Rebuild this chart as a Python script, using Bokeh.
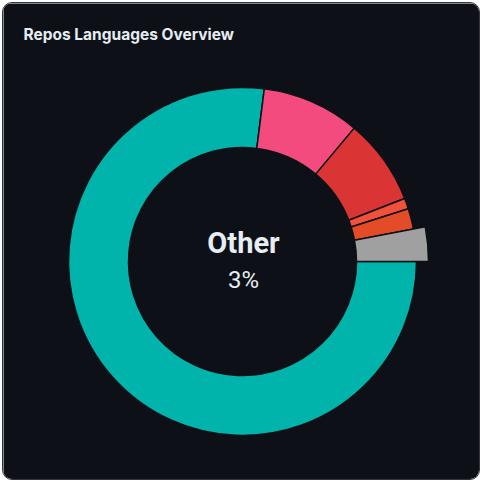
from bokeh.plotting import figure
from bokeh.models import Range1d, ColumnDataSource
from bokeh.core.properties import value
from bokeh.embed import file_html
from bokeh.resources import INLINE
import math

# ---- data ----
languages = ["Dart", "C++", "CMake", "Swift", "HTML", "Other"]
percents = [77.0, 9.1, 8.0, 1.0, 1.9, 3.0]
colors = ["#00B4AB", "#F34B7D", "#DA3434", "#F05138", "#E34C26", "#A0A0A0"]
highlight = "Other"
title_text = "Repos Languages Overview"

# ---- layout ----
W = H = 478
BG = "#0d1117"
TXT = "#e6edf3"
cx, cy = 239, 220
r_in, r_out, grow = 114, 174, 12

total = sum(percents)
starts, ends, outer = [], [], []
acc = 0.0
for lang, pct in zip(languages, percents):
    a0 = -2 * math.pi * acc / total
    acc += pct
    a1 = -2 * math.pi * acc / total
    starts.append(a0)
    ends.append(a1)
    outer.append(r_out + (grow if lang == highlight else 0))

src = ColumnDataSource(dict(lang=languages, pct=percents, color=colors,
                            start=starts, end=ends, outer=outer,
                            inner=[r_in] * len(languages),
                            x=[cx] * len(languages), y=[cy] * len(languages)))

p = figure(width=W, height=H, output_backend="svg", toolbar_location=None,
           x_range=Range1d(0, W), y_range=Range1d(0, H), min_border=0,
           background_fill_color=BG, border_fill_color=BG, outline_line_color=None,
           styles={"position": "absolute", "left": "2px", "top": "2px",
                   "border": "1px solid #30363d", "border-radius": "10px",
                   "overflow": "hidden"})
p.axis.visible = False
p.grid.visible = False

p.annular_wedge(x="x", y="y", inner_radius="inner", outer_radius="outer",
                start_angle="start", end_angle="end", direction="clock",
                fill_color="color", line_color=BG, line_width=1.5, source=src)

hi = languages.index(highlight)
p.text(x=[20], y=[H - 31], text=[title_text], text_font=value("Inter"),
       text_font_style="bold", text_font_size="15.5px", text_color=TXT,
       text_baseline="alphabetic", text_align="left")
p.text(x=[cx + 1], y=[H - 239], text=[languages[hi]], text_font=value("Roboto"),
       text_font_style="bold", text_font_size="29px", text_color=TXT,
       text_baseline="alphabetic", text_align="center")
p.text(x=[cx + 1], y=[H - 276], text=[f"{percents[hi]:.0f}%"], text_font=value("Roboto"),
       text_font_size="24px", text_color=TXT,
       text_baseline="alphabetic", text_align="center")

open("out.html", "w").write(file_html(p, INLINE))
